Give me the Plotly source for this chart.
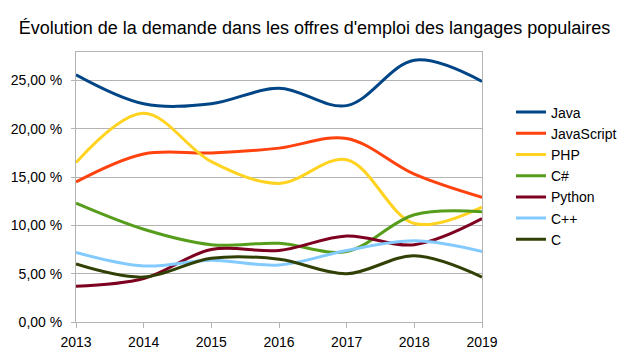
import plotly.graph_objects as go

years = [2013, 2014, 2015, 2016, 2017, 2018, 2019]
java = [25.6, 22.6, 22.6, 24.2, 22.4, 27.1, 24.9]
javascript = [14.5, 17.4, 17.5, 18.0, 19.0, 15.3, 12.9]
php = [16.5, 21.6, 16.6, 14.35, 16.8, 10.2, 11.9]
csharp = [12.3, 9.6, 8.0, 8.15, 7.3, 11.1, 11.4]
python = [3.7, 4.5, 7.5, 7.4, 8.9, 8.0, 10.7]
cpp = [7.2, 5.8, 6.4, 5.9, 7.4, 8.4, 7.3]
c = [6.0, 4.65, 6.6, 6.5, 5.0, 6.85, 4.65]

names = ["Java", "JavaScript", "PHP", "C#", "Python", "C++", "C"]
series = [java, javascript, php, csharp, python, cpp, c]
colors = ["#004586", "#ff420e", "#ffd320", "#579d1c", "#7e0021", "#83caff", "#314004"]

ytickvals = [0, 5, 10, 15, 20, 25]
yticktext = ["0,00 %", "5,00 %", "10,00 %", "15,00 %", "20,00 %", "25,00 %"]

fig = go.Figure()
for n, s, col in zip(names, series, colors):
    fig.add_trace(go.Scatter(
        x=years, y=s, name=n, mode="lines",
        line=dict(color=col, width=3, shape="spline", smoothing=1.0),
    ))

fig.update_layout(
    width=629, height=355,
    margin=dict(l=76, r=147, t=52, b=33, autoexpand=False),
    paper_bgcolor="white", plot_bgcolor="white",
    font=dict(family="Liberation Sans, Arial, sans-serif", size=14, color="#000000"),
    title=dict(text="Évolution de la demande dans les offres d'emploi des langages populaires",
               x=0.5, xref="container", xanchor="center", y=1 - 28/355, yanchor="middle",
               font=dict(size=18, color="#000000")),
    showlegend=True,
    legend=dict(x=511/629, xref="container", xanchor="left",
                y=(355 - 176) / 355, yref="container", yanchor="middle",
                font=dict(size=14), bgcolor="rgba(0,0,0,0)"),
)
fig.update_xaxes(range=[2013, 2019], tickvals=years, ticktext=[str(y) for y in years],
                 showgrid=False, showline=True, linecolor="#b3b3b3", linewidth=1,
                 mirror=True, ticks="outside", ticklen=5, tickcolor="#b3b3b3", zeroline=False,
                 ticklabelstandoff=2, automargin=False)
fig.update_yaxes(range=[0, 27.95], tickvals=ytickvals, ticktext=yticktext,
                 showgrid=True, gridcolor="#b3b3b3", gridwidth=1,
                 showline=True, linecolor="#b3b3b3", linewidth=1, mirror=True,
                 ticks="outside", ticklen=4, tickcolor="#b3b3b3", zeroline=False,
                 ticklabelstandoff=6, automargin=False)

fig.write_html("out.html", config={"displayModeBar": False},
               post_script="document.body.style.margin='0';")
